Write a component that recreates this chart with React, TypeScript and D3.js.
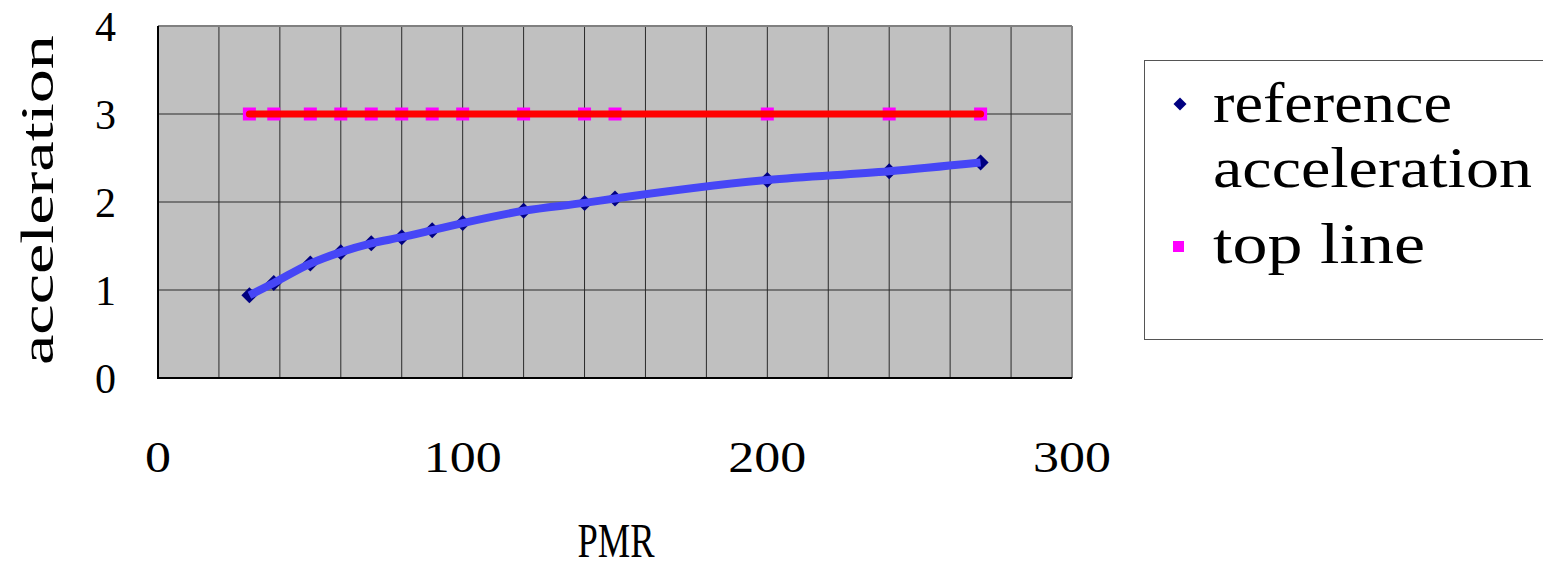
import React from "react";
import * as d3 from "d3";

const pmr = [30, 38, 50, 60, 70, 80, 90, 100, 120, 140, 150, 200, 240, 270];
const referenceAcceleration = [0.94, 1.08, 1.3, 1.43, 1.53, 1.6, 1.68, 1.76, 1.9, 1.99, 2.04, 2.25, 2.35, 2.45];
const topLine = [3, 3, 3, 3, 3, 3, 3, 3, 3, 3, 3, 3, 3, 3];
const xTicks = [0, 100, 200, 300];
const yTicks = [0, 1, 2, 3, 4];
const xGrid = d3.range(20, 300, 20);
const yGrid = [1, 2, 3];

const FONT = "'Liberation Serif', 'DejaVu Serif', serif";

export default function App() {
  const W = 1543, H = 569;
  const left = 158, right = 1072, top = 26, bottom = 378;
  const x = d3.scaleLinear().domain([0, 300]).range([left, right]);
  const y = d3.scaleLinear().domain([0, 4]).range([bottom, top]);

  const refPts = pmr.map((p, i) => [p, referenceAcceleration[i]] as [number, number]);
  const topPts = pmr.map((p, i) => [p, topLine[i]] as [number, number]);

  const curve = d3.line<[number, number]>().x(d => x(d[0])).y(d => y(d[1])).curve(d3.curveMonotoneX);
  const straight = d3.line<[number, number]>().x(d => x(d[0])).y(d => y(d[1]));

  const diamond = (cx: number, cy: number, r: number) =>
    `M${cx},${cy - r}L${cx + r},${cy}L${cx},${cy + r}L${cx - r},${cy}Z`;

  return (
    <svg width={W} height={H} style={{ position: "absolute", left: 0, top: 0, background: "#fff" }}>
      <rect x={0} y={0} width={W} height={H} fill="#fff" />
      {/* plot area */}
      <rect x={left} y={top} width={right - left} height={bottom - top} fill="#c0c0c0" />
      {xGrid.map(v => (
        <line key={"gx" + v} x1={x(v)} x2={x(v)} y1={top} y2={bottom} stroke="#2a2a2a" strokeWidth={1} />
      ))}
      {yGrid.map(v => (
        <line key={"gy" + v} x1={left} x2={right} y1={y(v)} y2={y(v)} stroke="#2a2a2a" strokeWidth={1} />
      ))}
      {/* border */}
      <line x1={left} x2={right} y1={top} y2={top} stroke="#808080" strokeWidth={2} />
      <line x1={right} x2={right} y1={top} y2={bottom} stroke="#808080" strokeWidth={2} />
      <line x1={left} x2={left} y1={top} y2={bottom + 1} stroke="#000" strokeWidth={2} />
      <line x1={left} x2={right} y1={bottom} y2={bottom} stroke="#000" strokeWidth={2} />

      {/* top line series */}
      {topPts.map((d, i) => (
        <rect key={"sq" + i} x={x(d[0]) - 6.5} y={y(d[1]) - 6.5} width={13} height={13} fill="#ff00ff" />
      ))}
      <path d={straight(topPts) || ""} fill="none" stroke="#ff0000" strokeWidth={7} strokeLinecap="round" />

      {/* reference acceleration series */}
      {refPts.map((d, i) => (
        <path key={"dm" + i} d={diamond(x(d[0]), y(d[1]), 8)} fill="#000080" />
      ))}
      <path d={curve(refPts) || ""} fill="none" stroke="#4646f6" strokeWidth={8} />

      {/* y ticks */}
      {yTicks.map(v => (
        <text key={"yt" + v} x={116} y={y(v)} dy="0.35em" textAnchor="end" fontFamily={FONT} fontSize={42} fill="#000">
          {v}
        </text>
      ))}
      {/* x ticks */}
      {xTicks.map(v => {
        const s = String(v);
        return (
          <text key={"xt" + v} x={x(v)} y={472} textAnchor="middle" fontFamily={FONT} fontSize={44} fill="#000"
            textLength={s.length * 26} lengthAdjust="spacingAndGlyphs">
            {s}
          </text>
        );
      })}
      {/* axis titles */}
      <text x={616} y={557} textAnchor="middle" fontFamily={FONT} fontSize={48} fill="#000"
        textLength={77} lengthAdjust="spacingAndGlyphs">PMR</text>
      <text transform="translate(53,200) rotate(-90)" textAnchor="middle" fontFamily={FONT} fontSize={46} fill="#000"
        textLength={330} lengthAdjust="spacingAndGlyphs">acceleration</text>

      {/* legend */}
      <rect x={1144.5} y={60.5} width={420} height={279} fill="#fff" stroke="#555" strokeWidth={1} />
      <path d={diamond(1180, 104, 6.5)} fill="#000080" />
      <rect x={1173} y={241} width={11} height={11} fill="#ff00ff" />
      <text x={1213} y={122} fontFamily={FONT} fontSize={58} fill="#000" textLength={239} lengthAdjust="spacingAndGlyphs">reference</text>
      <text x={1213} y={187} fontFamily={FONT} fontSize={58} fill="#000" textLength={319} lengthAdjust="spacingAndGlyphs">acceleration</text>
      <text x={1213} y={263} fontFamily={FONT} fontSize={58} fill="#000" textLength={212} lengthAdjust="spacingAndGlyphs">top line</text>
    </svg>
  );
}
